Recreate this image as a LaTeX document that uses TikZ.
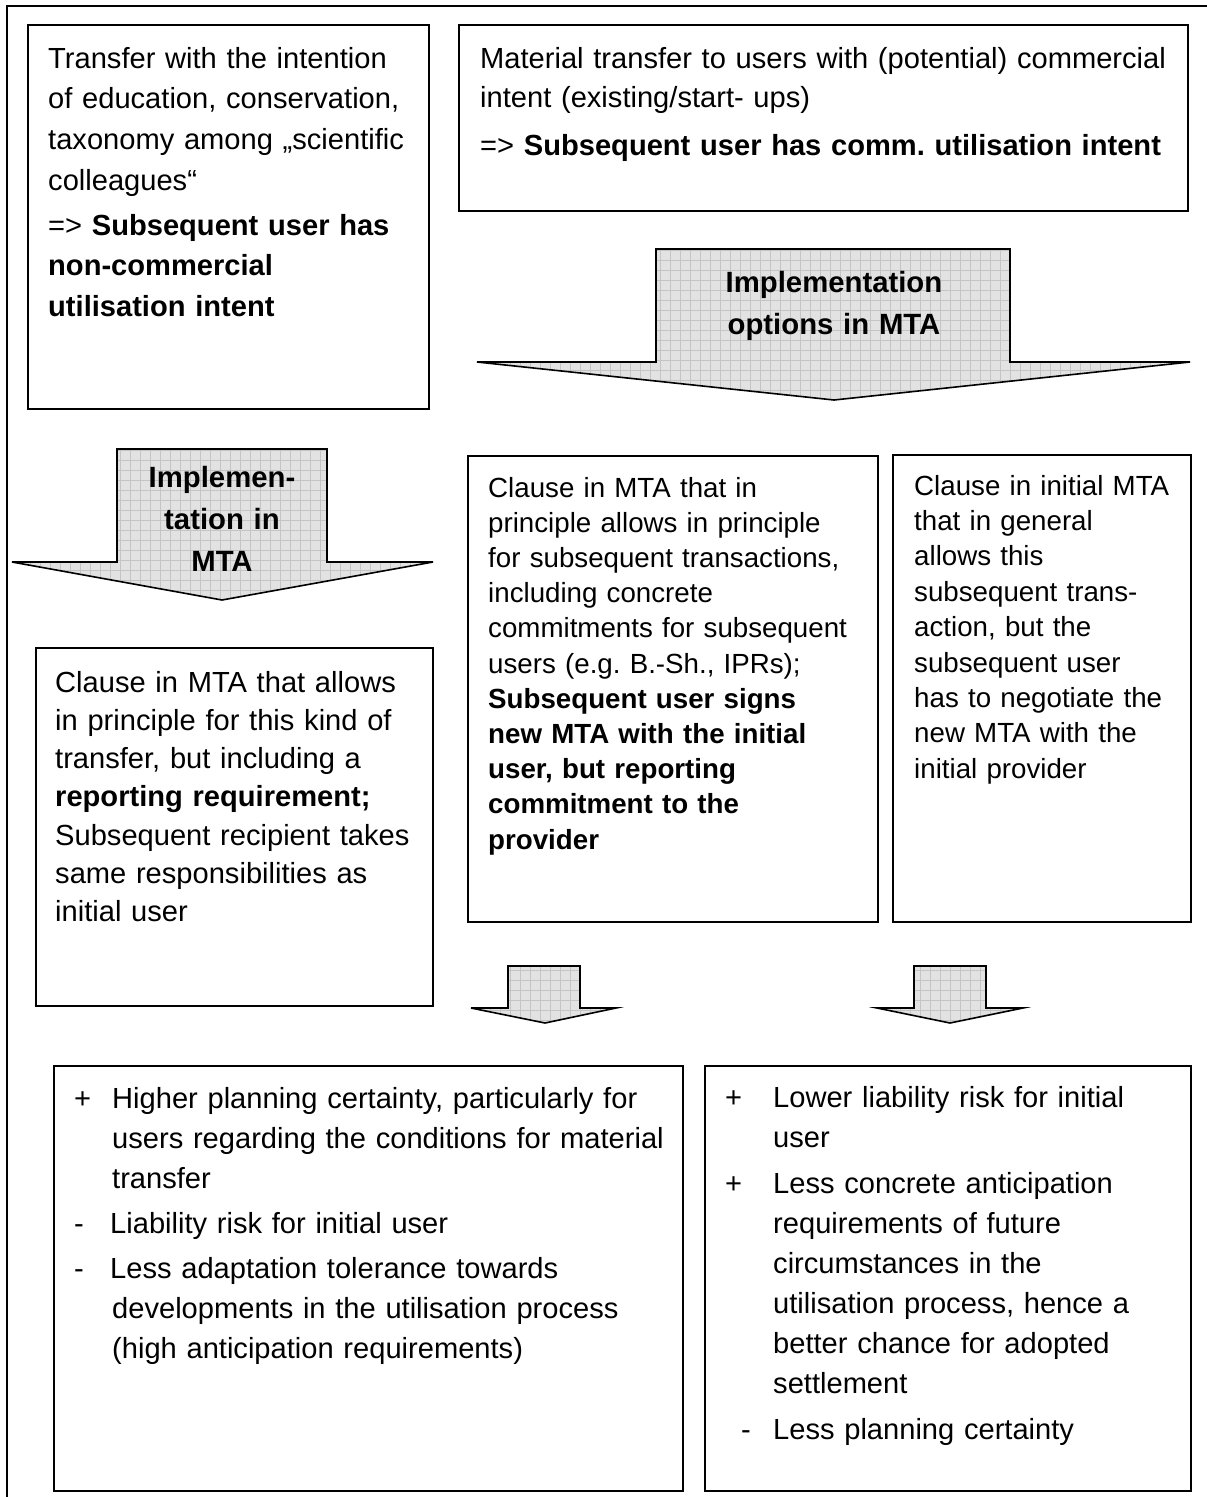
\documentclass[tikz,border=0pt]{standalone}
\usepackage{fontspec}
\setmainfont{Liberation Sans}
\frenchspacing
\definecolor{arrowgray}{HTML}{E2E2E2}
\definecolor{gridgray}{HTML}{C4C4C4}
\newcommand{\blockarrow}[8]{%
  \begin{scope}
    \clip (#2,#1) -- (#3,#1) -- (#3,#4) -- (#6,#4) -- (#7,#8) -- (#5,#4) -- (#2,#4) -- cycle;
    \fill[arrowgray] (#5,#1) rectangle (#6,#8);
    \draw[gridgray, line width=0.6pt, step=10pt] (#5,#1) grid (#6,#8);
  \end{scope}
  \draw[arrowline] (#2,#1) -- (#3,#1) -- (#3,#4) -- (#6,#4) -- (#7,#8) -- (#5,#4) -- (#2,#4) -- cycle;
}
\begin{document}
\frenchspacing
\begin{tikzpicture}[x=1pt,y=-1pt,
  box/.style={draw=black, line width=1.6pt, rectangle, inner sep=0pt, anchor=north west},
  arrowline/.style={draw=black, line width=1.6pt, line join=miter},
  frameline/.style={draw=black, line width=1.4pt},
  txt/.style={anchor=base west, inner sep=0pt, align=left, text width=760pt},
  lbl/.style={anchor=base, inner sep=0pt, align=center, text width=300pt,
              font=\fontsize{29.3}{42}\selectfont\bfseries},
  big/.style={font=\fontsize{29.1}{#1}\selectfont\frenchspacing},
  small/.style={font=\fontsize{27.7}{#1}\selectfont\frenchspacing}]
\useasboundingbox (0,0) rectangle (1207,1497);

% outer frame (runs off the right and bottom edges)
\draw[frameline] (7,1500) -- (7,6) -- (1210,6);

% boxes
\node[box, minimum width=401pt, minimum height=384pt] (boxA) at (27,24) {};
\node[box, minimum width=729pt, minimum height=186pt] (boxB) at (458,24) {};
\node[box, minimum width=397pt, minimum height=358pt] (boxC) at (35,647) {};
\node[box, minimum width=410pt, minimum height=466pt] (boxD) at (467,455) {};
\node[box, minimum width=298pt, minimum height=467pt] (boxE) at (892,454) {};
\node[box, minimum width=629pt, minimum height=425pt] (boxF) at (53,1065) {};
\node[box, minimum width=486pt, minimum height=425pt] (boxG) at (704,1065) {};

% block arrows: top y, shaft left, shaft right, shoulder y, head left, head right, tip x, tip y
\blockarrow{249}{656}{1010}{362}{477}{1190}{834}{400}
\blockarrow{449}{117}{327}{562}{12}{433}{222}{600}
\blockarrow{966}{508}{580}{1008}{471}{616}{545}{1023}
\blockarrow{966}{914}{986}{1008}{877}{1023}{950}{1023}

% arrow labels
\node[lbl] (lblOptions) at (834,292) {Implementation\\options in MTA};
\node[lbl] (lblImpl) at (222,487) {Implemen-\\tation in\\MTA};

% texts
\node[txt, big=40.7] (tA) at (48,68) {Transfer with the intention\\of education, conservation,\\taxonomy among „scientific\\colleagues“\\[4.3pt]=> \textbf{Subsequent user has}\\\textbf{non-commercial}\\\textbf{utilisation intent}};

\node[txt, big=39] (tB) at (480,68) {Material transfer to users with (potential) commercial\\intent (existing/start- ups)\\[9pt]=> \textbf{Subsequent user has comm. utilisation intent}};

\node[txt, big=38.3] (tC) at (55,692) {Clause in MTA that allows\\in principle for this kind of\\transfer, but including a\\\textbf{reporting requirement;}\\Subsequent recipient takes\\same responsibilities as\\initial user};

\node[txt, small=35.2] (tD) at (488,497) {Clause in MTA that in\\principle allows in principle\\for subsequent transactions,\\including concrete\\commitments for subsequent\\users (e.g. B.-Sh., IPRs);\\\textbf{Subsequent user signs}\\\textbf{new MTA with the initial}\\\textbf{user, but reporting}\\\textbf{commitment to the}\\\textbf{provider}};

\node[txt, small=35.4] (tE) at (914,495) {Clause in initial MTA\\that in general\\allows this\\subsequent trans-\\action, but the\\subsequent user\\has to negotiate the\\new MTA with the\\initial provider};

\node[txt, big=40] (tF) at (74,1108) {\makebox[38pt][l]{+}Higher planning certainty, particularly for\\\hspace*{38pt}users regarding the conditions for material\\\hspace*{38pt}transfer\\[5pt]\makebox[36pt][l]{-}Liability risk for initial user\\[5pt]\makebox[36pt][l]{-}Less adaptation tolerance towards\\\hspace*{38pt}developments in the utilisation process\\\hspace*{38pt}(high anticipation requirements)};

\node[txt, big=40] (tG) at (725,1107) {\makebox[48pt][l]{+}Lower liability risk for initial\\\hspace*{48pt}user\\[6pt]\makebox[48pt][l]{+}Less concrete anticipation\\\hspace*{48pt}requirements of future\\\hspace*{48pt}circumstances in the\\\hspace*{48pt}utilisation process, hence a\\\hspace*{48pt}better chance for adopted\\\hspace*{48pt}settlement\\[6pt]\hspace*{16pt}\makebox[32pt][l]{-}Less planning certainty};
\end{tikzpicture}
\end{document}
